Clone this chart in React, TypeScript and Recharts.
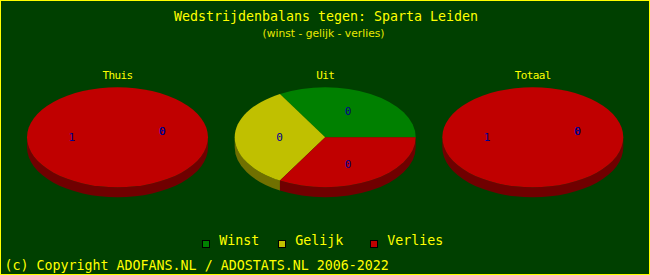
import { PieChart, Pie } from "recharts";

const categories = ["Winst", "Gelijk", "Verlies"];
const sliceColors = ["#008000", "#c0c000", "#c00000"];
const sideColors = ["#004800", "#707000", "#700000"];

const pieTitles = ["Thuis", "Uit", "Totaal"];
const thuisValues = [0, 0, 1];
const uitValues = [0, 0, 0];
const totaalValues = [0, 0, 1];

const TITLE = "Wedstrijdenbalans tegen: Sparta Leiden";
const SUBTITLE = "(winst -  gelijk - verlies)";
const COPYRIGHT = "(c) Copyright ADOFANS.NL / ADOSTATS.NL 2006-2022";

const W = 650;
const H = 275;
const BG = "#004000";
const YELLOW = "#ffff00";
const MONO = "'DejaVu Sans Mono', 'Liberation Mono', monospace";
const TILT = 50 / 90.5;
const DEPTH = 10;
const RAD = Math.PI / 180;
const PIE_CX = [117.5, 325.2, 532.8];
const PIE_CY = 137.3;
const LEGEND_X = [202.5, 278.5, 370.5];

// all-zero pies are drawn as equal slices, like the original graph does
function toRows(values: number[]) {
    const sum = values.reduce((a, b) => a + b, 0);
    return values.map((v, i) => ({
        name: categories[i],
        count: v,
        draw: sum === 0 ? 1 : v,
        fill: sliceColors[i],
        side: sideColors[i],
    }));
}

const pies = [thuisValues, uitValues, totaalValues].map(toRows);

function Slice3D(props: any) {
    const { cx, cy, outerRadius, startAngle, endAngle, fill } = props;
    const side = props.side ?? props.payload?.side ?? "#000";
    const rx = outerRadius;
    const ry = outerRadius * TILT;
    const span = endAngle - startAngle;
    if (!(span > 0.01)) return <g />;

    const pt = (a: number, dy = 0) => `${cx + rx * Math.cos(a * RAD)},${cy - ry * Math.sin(a * RAD) + dy}`;

    let sidePath = "";
    const s0 = Math.max(startAngle, 180);
    const s1 = Math.min(endAngle, 360);
    if (s1 > s0) {
        const large = s1 - s0 > 180 ? 1 : 0;
        sidePath = `M${pt(s0)} A${rx},${ry} 0 ${large} 0 ${pt(s1)} L${pt(s1, DEPTH)} A${rx},${ry} 0 ${large} 1 ${pt(s0, DEPTH)} Z`;
    }

    const top = span >= 359.99
        ? <ellipse cx={cx} cy={cy} rx={rx} ry={ry} fill={fill} />
        : <path d={`M${cx},${cy} L${pt(startAngle)} A${rx},${ry} 0 ${span > 180 ? 1 : 0} 0 ${pt(endAngle)} Z`} fill={fill} />;

    return (
        <g>
            {sidePath && <path d={sidePath} fill={side} />}
            {top}
        </g>
    );
}

function renderLabel(p: any) {
    const { cx, cy, midAngle, outerRadius } = p;
    const count = p.count ?? p.payload?.count ?? 0;
    const rx = outerRadius;
    const ry = outerRadius * TILT;
    let x = cx + 0.505 * rx * Math.cos(midAngle * RAD);
    let y = cy - 0.61 * ry * Math.sin(midAngle * RAD);
    if (count === 0 && Math.abs(midAngle) < 0.01) {
        x -= 1;
        y -= 6;
    }
    return (
        <text x={x} y={y} dy={4} textAnchor="middle" fill="#000090" fontFamily={MONO} fontSize={11}>
            {count}
        </text>
    );
}

export default function App() {
    return (
        <div style={{ position: "absolute", left: 0, top: 0, width: W, height: H, background: BG }}>
            <PieChart width={W} height={H} margin={{ top: 0, right: 0, bottom: 0, left: 0 }}>
                {pies.map((rows, i) => (
                    <Pie
                        key={pieTitles[i]}
                        data={rows}
                        dataKey="draw"
                        nameKey="name"
                        cx={PIE_CX[i]}
                        cy={PIE_CY}
                        outerRadius={90.5}
                        startAngle={0}
                        endAngle={360}
                        stroke="none"
                        shape={Slice3D}
                        label={renderLabel}
                        labelLine={false}
                        isAnimationActive={false}
                    />
                ))}
            </PieChart>
            <svg width={W} height={H} style={{ position: "absolute", left: 0, top: 0, pointerEvents: "none" }}>
                <rect x={0.5} y={0.5} width={W - 1} height={H - 1} fill="none" stroke={YELLOW} />
                <text x={326} y={21} textAnchor="middle" fill={YELLOW} fontFamily={MONO} fontSize={13.3}>
                    {TITLE}
                </text>
                <text x={323.5} y={37} textAnchor="middle" fill="#e8e800" fontFamily="'DejaVu Sans', sans-serif" fontSize={10.5} textLength={122} lengthAdjust="spacingAndGlyphs">
                    {SUBTITLE}
                </text>
                {pieTitles.map((t, i) => (
                    <text key={t} x={PIE_CX[i]} y={79} textAnchor="middle" fill={YELLOW} fontFamily={MONO} fontSize={11} letterSpacing={-0.6}>
                        {t}
                    </text>
                ))}
                {categories.map((c, i) => (
                    <g key={c}>
                        <rect x={LEGEND_X[i]} y={240.5} width={7} height={7} fill={sliceColors[i]} stroke="#000" />
                        <text x={LEGEND_X[i] + 16.8} y={244.7} fill={YELLOW} fontFamily={MONO} fontSize={13.3}>
                            {c}
                        </text>
                    </g>
                ))}
                <text x={4.5} y={269.5} fill={YELLOW} fontFamily={MONO} fontSize={13.3}>
                    {COPYRIGHT}
                </text>
            </svg>
        </div>
    );
}
